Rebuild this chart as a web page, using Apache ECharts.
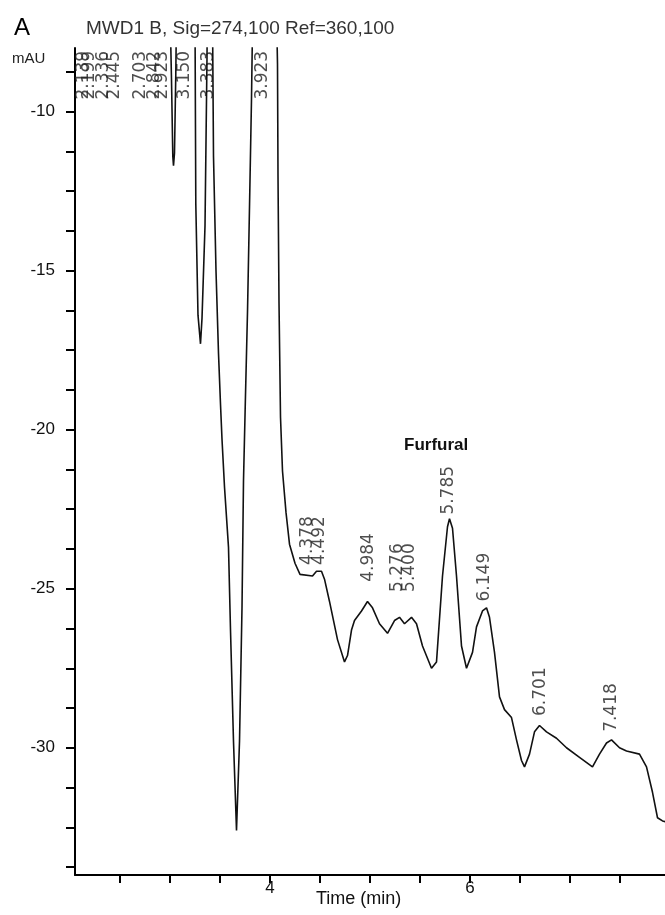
<!DOCTYPE html>
<html lang="en">
<head>
<meta charset="UTF-8">
<title>MWD1 B chromatogram</title>
<script src="https://cdn.jsdelivr.net/npm/echarts@6/dist/echarts.min.js"></script>
<style>html,body{margin:0;padding:0;background:#fff}</style>
</head>
<body>
<div id="ec" style="width:665px;height:915px"></div>
<script>
// retention time (min) and signal (mAU); values above -8 are off scale
var times = [2.05, 2.10, 2.139, 2.17, 2.199, 2.26, 2.336, 2.40, 2.445, 2.55, 2.703, 2.78, 2.842, 2.88, 2.923, 2.97,
    2.995, 3.015, 3.028, 3.035, 3.045, 3.058, 3.08, 3.150, 3.22,
    3.25, 3.258, 3.28, 3.305, 3.32, 3.35, 3.37, 3.383, 3.40, 3.425,
    3.435, 3.46, 3.485, 3.505, 3.52, 3.545, 3.585, 3.605, 3.635, 3.665,
    3.695, 3.72, 3.735, 3.755, 3.775, 3.795, 3.815, 3.84, 3.923, 4.00, 4.06,
    4.075, 4.08, 4.09, 4.105, 4.125, 4.16, 4.195, 4.25, 4.30, 4.425, 4.465, 4.515, 4.545,
    4.595, 4.675, 4.745, 4.775, 4.815, 4.845, 4.915, 4.975, 5.025, 5.095, 5.175,
    5.245, 5.295, 5.345, 5.415, 5.465, 5.525, 5.615, 5.665, 5.725, 5.775, 5.795,
    5.825, 5.865, 5.915, 5.965, 6.025, 6.065, 6.125, 6.165, 6.195, 6.245, 6.295,
    6.345, 6.415, 6.465, 6.515, 6.545, 6.595, 6.645, 6.695, 6.765, 6.865, 6.965,
    7.095, 7.225, 7.295, 7.365, 7.415, 7.495, 7.565, 7.695, 7.765, 7.825, 7.875, 7.925, 8.05]
var signal = [-3, 2, 6, 3, 5, 1, 4, 2, 5, 0, 6, 2, 7, 4, 8, 0,
    -6, -9, -11.4, -11.7, -11.3, -8.8, -3, 8, -2,
    -7, -12.9, -16.4, -17.3, -16.5, -13.6, -8.3, -3, -2, -7,
    -11.4, -15.0, -17.6, -19.2, -20.3, -21.8, -23.7, -26.3, -29.8, -32.6,
    -29.8, -25.6, -21.6, -18.9, -16.3, -13.0, -9.6, -4, 6, 1, -6,
    -8.5, -12, -16, -19.6, -21.3, -22.6, -23.6, -24.2, -24.55, -24.6, -24.45, -24.45, -24.7,
    -25.4, -26.6, -27.3, -27.1, -26.3, -26.0, -25.7, -25.4, -25.6, -26.1, -26.4,
    -26.0, -25.9, -26.1, -25.9, -26.1, -26.8, -27.5, -27.3, -24.6, -23.05, -22.8,
    -23.1, -24.6, -26.8, -27.5, -27.0, -26.2, -25.7, -25.6, -25.9, -27.0, -28.4,
    -28.8, -29.05, -29.75, -30.4, -30.6, -30.2, -29.5, -29.3, -29.5, -29.7, -30.0,
    -30.3, -30.6, -30.2, -29.85, -29.75, -30.0, -30.1, -30.2, -30.6, -31.4, -32.2, -32.3, -32.4]

// integrated peaks and where their labels start (mAU)
var peakTimes = [2.139, 2.199, 2.336, 2.445, 2.703, 2.842, 2.923, 3.150, 3.383, 3.923,
    4.378, 4.492, 4.984, 5.276, 5.400, 5.785, 6.149, 6.701, 7.418]
var peakLabelY = [-9.62, -9.62, -9.62, -9.62, -9.62, -9.62, -9.62, -9.62, -9.62, -9.62,
    -24.25, -24.25, -24.78, -25.1, -25.1, -22.67, -25.4, -29.0, -29.5]

var yLabels = [-30, -25, -20, -15, -10]
var yTickVals = [-33.75, -32.5, -31.25, -30, -28.75, -27.5, -26.25, -25, -23.75, -22.5, -21.25,
    -20, -18.75, -17.5, -16.25, -15, -13.75, -12.5, -11.25, -10, -8.75]
var xLabels = [4, 6, 8]
var xTickVals = [2.5, 3, 3.5, 4, 4.5, 5, 5.5, 6, 6.5, 7, 7.5, 8]

var chart = echarts.init(document.getElementById('ec'))
var font = 'Liberation Sans, Arial, sans-serif'

var option = {
    animation: false,
    backgroundColor: '#fff',
    title: [
        {text: 'A', left: 9, top: 11, textStyle: {fontSize: 24, fontWeight: 'normal', color: '#000', fontFamily: font}},
        {text: 'MWD1 B, Sig=274,100 Ref=360,100', left: 81, top: 14,
            textStyle: {fontSize: 19, fontWeight: 'normal', color: '#333', fontFamily: font}}
    ],
    graphic: [
        {type: 'text', left: 12, top: 51, style: {text: 'mAU', fontSize: 15, fill: '#222', fontFamily: font}},
        {type: 'text', left: 404, top: 437, style: {text: 'Furfural', fontSize: 17, fontWeight: 'bold', fill: '#111', fontFamily: font}},
        {type: 'text', left: 316, top: 890, style: {text: 'Time (min)', fontSize: 18, fill: '#111',
            fontFamily: 'Liberation Sans Narrow, Arial Narrow, sans-serif'}}
    ],
    grid: {left: 75, right: -10, top: 48, bottom: 40, outerBoundsMode: 'none'},
    xAxis: {
        type: 'value', min: 2.05, max: 8.05,
        axisLine: {lineStyle: {color: '#000', width: 2}},
        axisTick: {customValues: xTickVals, length: 8, lineStyle: {color: '#000', width: 2}},
        axisLabel: {customValues: xLabels, margin: 5, fontSize: 17, color: '#111', fontFamily: font},
        splitLine: {show: false}
    },
    yAxis: {
        type: 'value', min: -34, max: -8,
        axisLine: {show: true, lineStyle: {color: '#000', width: 2}},
        axisTick: {show: true, customValues: yTickVals, length: 9, lineStyle: {color: '#000', width: 2}},
        axisLabel: {customValues: yLabels, margin: 20, fontSize: 17, color: '#111', fontFamily: font},
        splitLine: {show: false}
    },
    series: [
        {
            type: 'line',
            data: times.map(function (t, i) { return [t, signal[i]] }),
            showSymbol: false,
            clip: true,
            lineStyle: {color: '#111', width: 1.6}
        },
        {
            type: 'scatter',
            data: peakTimes.map(function (t, i) { return [t, peakLabelY[i]] }),
            symbolSize: 1,
            itemStyle: {color: 'rgba(0,0,0,0)'},
            label: {
                show: true, position: 'inside', rotate: 90, align: 'left', verticalAlign: 'middle',
                fontSize: 17, color: '#222', fontFamily: 'DejaVu Sans, sans-serif',
                formatter: function (p) { return p.value[0].toFixed(3) }
            }
        }
    ]
}
chart.setOption(option)
</script>
</body>
</html>
